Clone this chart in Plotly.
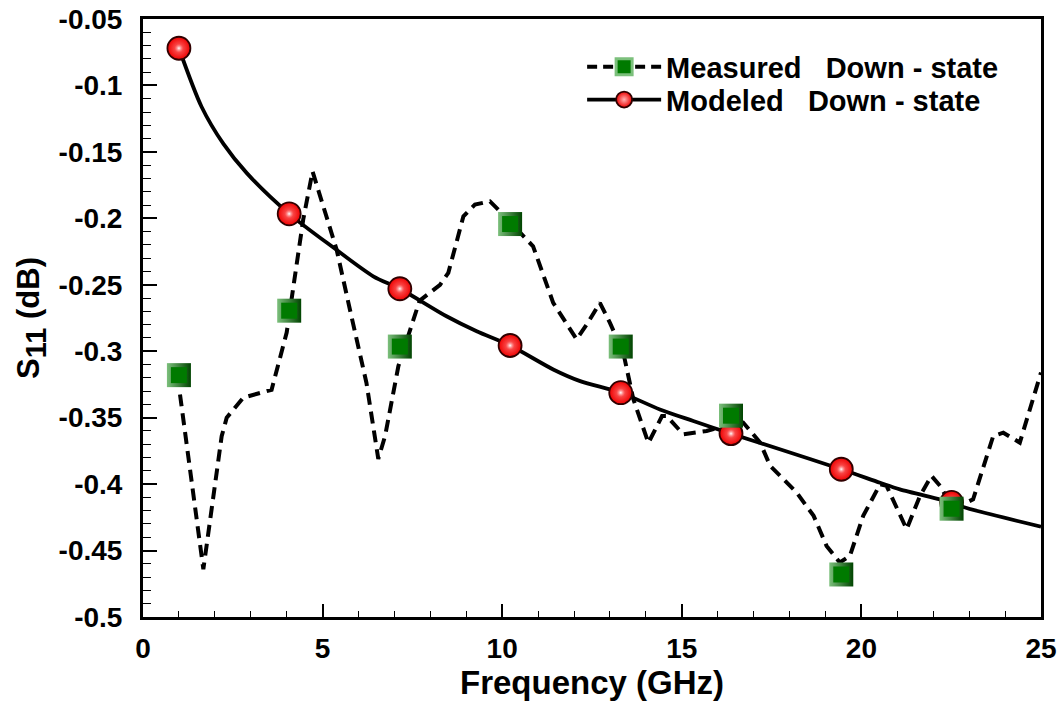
import plotly.graph_objects as go

# ---------------- data ----------------
marker_freq = [1.0, 4.07, 7.15, 10.22, 13.3, 16.37, 19.44, 22.51]
measured_marker_s11 = [-0.318, -0.2695, -0.2965, -0.2043, -0.2965, -0.3485, -0.468, -0.4185]
modeled_marker_s11 = [-0.072, -0.1966, -0.253, -0.2957, -0.3312, -0.362, -0.3888, -0.4138]

measured_freq = [1.03, 1.68, 2.19, 2.33, 2.79, 3.58, 4.0, 4.14, 4.46, 4.72, 5.39, 5.76, 6.22, 6.55,
                 6.74, 7.11, 7.7, 8.27, 8.5, 8.92, 9.24, 9.66, 9.94, 10.68, 10.86, 11.42, 12.07,
                 12.35, 12.72, 13.0, 13.37, 13.65, 14.07, 14.45, 14.58, 15.04, 15.69, 16.02, 16.71,
                 17.18, 17.46, 17.83, 18.2, 18.67, 19.03, 19.4, 19.68, 20.05, 20.52, 20.7, 21.26,
                 21.63, 21.95, 22.19, 22.56, 23.11, 23.67, 23.95, 24.41, 25.0]
measured_s11 = [-0.3325, -0.464, -0.364, -0.35, -0.335, -0.329, -0.286, -0.26, -0.201, -0.1647,
                -0.2235, -0.2686, -0.3237, -0.381, -0.3638, -0.3112, -0.262, -0.25, -0.241, -0.1985,
                -0.1897, -0.1872, -0.1948, -0.216, -0.221, -0.2636, -0.291, -0.28, -0.2636, -0.2787,
                -0.301, -0.336, -0.369, -0.3488, -0.3488, -0.3625, -0.36, -0.3575, -0.3537, -0.3687,
                -0.3863, -0.3963, -0.4064, -0.4239, -0.4465, -0.459, -0.454, -0.4239, -0.4001,
                -0.4013, -0.4339, -0.4089, -0.3938, -0.4013, -0.4189, -0.4114, -0.3638, -0.3613,
                -0.3688, -0.316]

modeled_freq = [1.0, 1.63, 2.24, 2.89, 4.07, 5.3, 6.41, 7.15, 8.45, 9.29, 10.22, 11.42, 12.17,
                13.3, 14.39, 15.32, 16.37, 17.73, 19.44, 20.52, 21.07, 22.51, 22.93, 25.0]
modeled_s11 = [-0.072, -0.116, -0.144, -0.166, -0.1966, -0.222, -0.2436, -0.253, -0.2737, -0.285,
               -0.2957, -0.3137, -0.3225, -0.3312, -0.3438, -0.3525, -0.362, -0.3738, -0.3888,
               -0.399, -0.404, -0.4138, -0.418, -0.432]

x_tick_vals = [0, 5, 10, 15, 20, 25]
x_tick_text = ["0", "5", "10", "15", "20", "25"]
y_tick_vals = [-0.05, -0.1, -0.15, -0.2, -0.25, -0.3, -0.35, -0.4, -0.45, -0.5]
y_tick_text = ["-0.05", "-0.1", "-0.15", "-0.2", "-0.25", "-0.3", "-0.35", "-0.4", "-0.45", "-0.5"]

series_names = ["Measured\u00a0\u00a0\u00a0Down - state", "Modeled\u00a0\u00a0\u00a0Down - state"]

FONT = "Liberation Sans, Arial, sans-serif"
GREEN = "#007a00"
LIGHT_GREEN = "#7cc07c"
DARK_GREEN = "#004400"
RED = "#ee0000"

fig = go.Figure()

# measured dashed line
fig.add_trace(go.Scatter(x=measured_freq, y=measured_s11, mode="lines",
                         line=dict(color="black", width=4, dash="12px,7px"),
                         showlegend=False, hoverinfo="skip"))
# modeled solid curve
fig.add_trace(go.Scatter(x=modeled_freq, y=modeled_s11, mode="lines",
                         line=dict(color="black", width=3.8, shape="spline", smoothing=0.8),
                         showlegend=False, hoverinfo="skip"))

# modeled spheres
fig.add_trace(go.Scatter(x=marker_freq, y=modeled_marker_s11, mode="markers",
                         marker=dict(symbol="circle", size=23, color=RED,
                                     gradient=dict(type="radial", color="#ff6a6a"),
                                     line=dict(color="#300000", width=1.8)),
                         showlegend=False))
fig.add_trace(go.Scatter(x=marker_freq, y=modeled_marker_s11, mode="markers",
                         marker=dict(symbol="circle", size=9, color="rgba(255,120,120,0)",
                                     gradient=dict(type="radial", color="white"),
                                     line=dict(width=0)),
                         showlegend=False, hoverinfo="skip"))

# measured beveled squares
fig.add_trace(go.Scatter(x=marker_freq, y=measured_marker_s11, mode="markers",
                         marker=dict(symbol="square", size=24, color=LIGHT_GREEN,
                                     gradient=dict(type="horizontal", color=DARK_GREEN),
                                     line=dict(width=0)),
                         showlegend=False))
fig.add_trace(go.Scatter(x=marker_freq, y=measured_marker_s11, mode="markers",
                         marker=dict(symbol="square", size=16, color=GREEN,
                                     line=dict(width=0)),
                         showlegend=False, hoverinfo="skip"))

# legend entries (each in its own legend box so rows can be spaced like the reference)
fig.add_trace(go.Scatter(x=[None], y=[None], mode="lines+markers", name=series_names[0],
                         legend="legend",
                         line=dict(color="black", width=4, dash="10px,6px"),
                         marker=dict(symbol="square", size=22, color=GREEN,
                                     line=dict(color=LIGHT_GREEN, width=3))))
fig.add_trace(go.Scatter(x=[None], y=[None], mode="lines+markers", name=series_names[1],
                         legend="legend2",
                         line=dict(color="black", width=3.8),
                         marker=dict(symbol="circle", size=22, color=RED,
                                     gradient=dict(type="radial", color="#ffb0b0"),
                                     line=dict(color="#300000", width=1.8))))

axis_common = dict(showline=True, linecolor="black", linewidth=3, mirror=True,
                   showgrid=False, zeroline=False, ticks="inside", tickcolor="black",
                   tickwidth=1.5, automargin=False)

fig.update_xaxes(range=[0, 25], tickmode="array", tickvals=x_tick_vals, ticktext=x_tick_text,
                 ticklen=13, ticklabelstandoff=4,
                 minor=dict(ticks="inside", ticklen=6, tickwidth=1.2, tickcolor="black",
                            tick0=0, dtick=1),
                 tickfont=dict(family=FONT, size=28, color="black", weight="bold"),
                 title=dict(text="<b>Frequency (GHz)</b>",
                            font=dict(family=FONT, size=33, color="black"), standoff=8),
                 **axis_common)
fig.update_yaxes(range=[-0.5, -0.05], tickmode="array", tickvals=y_tick_vals,
                 ticktext=y_tick_text, ticklen=14, ticklabelstandoff=12,
                 minor=dict(ticks="inside", ticklen=8, tickwidth=1.2, tickcolor="black",
                            tick0=-0.5, dtick=0.01),
                 tickfont=dict(family=FONT, size=28, color="black", weight="bold"),
                 title=dict(text="<b>S<sub><span style='font-size:29px'>11</span></sub> (dB)</b>",
                            font=dict(family=FONT, size=31, color="black"), standoff=10),
                 **axis_common)

legend_common = dict(xanchor="left", yanchor="middle", bgcolor="rgba(255,255,255,0)",
                     borderwidth=0, itemwidth=74,
                     font=dict(family=FONT, size=29, color="black", weight="bold"))

fig.update_layout(
    width=1061, height=709,
    margin=dict(l=143, r=20, t=19, b=92),
    paper_bgcolor="white", plot_bgcolor="white",
    showlegend=True,
    legend=dict(x=0.489, y=0.92, **legend_common),
    legend2=dict(x=0.489, y=0.865, **legend_common),
)

fig.write_html("out.html")
